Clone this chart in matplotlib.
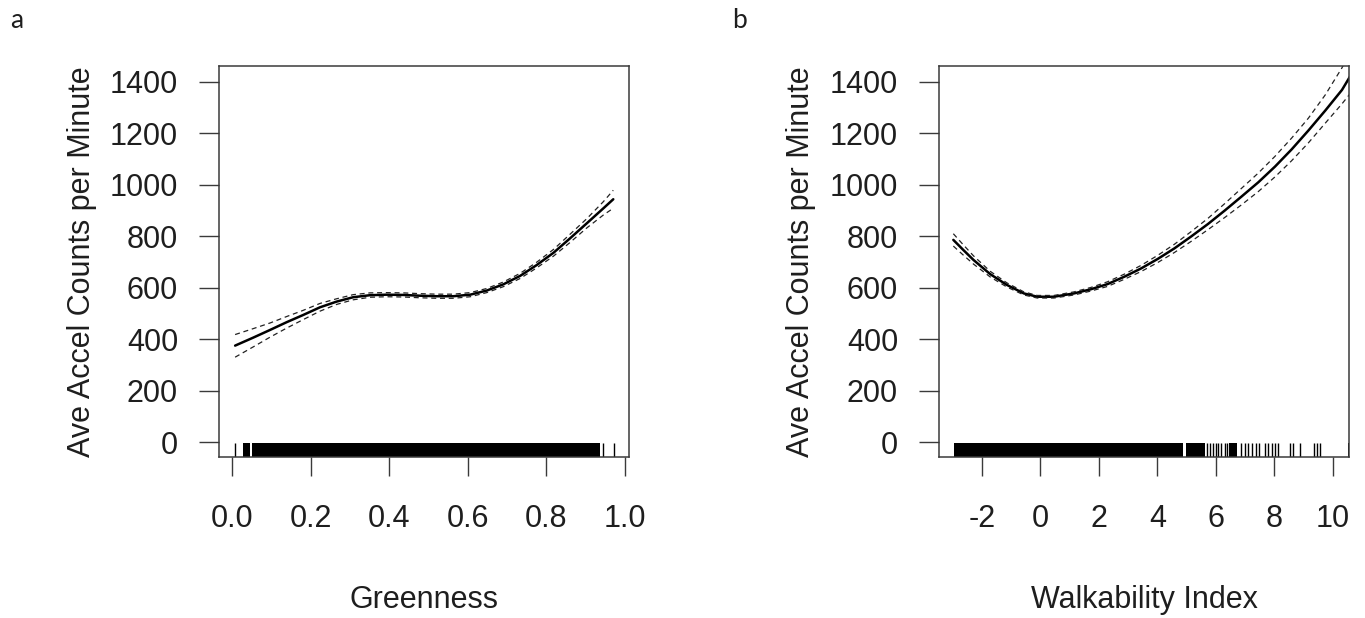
import numpy as np
import matplotlib
matplotlib.use("Agg")
import matplotlib.pyplot as plt

plt.rcParams['font.family'] = ['Liberation Sans', 'DejaVu Sans']

# --- painel a: Greenness ---
green_x = [0.008, 0.054, 0.097, 0.139, 0.181, 0.224, 0.266, 0.308, 0.351, 0.393, 0.436, 0.478,
           0.521, 0.563, 0.606, 0.648, 0.690, 0.733, 0.775, 0.818, 0.860, 0.903, 0.945, 0.970]
green_fit = [375, 406, 436, 466, 494, 524, 546, 563, 571, 573, 572, 569,
             567, 567, 573, 589, 613, 646, 688, 736, 792, 851, 909, 944]
green_upper = [418, 441, 463, 488, 512, 539, 557, 573, 580, 581, 580, 577,
               575, 575, 581, 597, 622, 656, 699, 749, 808, 869, 935, 979]
green_lower = [330, 370, 408, 443, 476, 509, 535, 553, 563, 565, 564, 561,
               559, 559, 565, 581, 604, 636, 677, 723, 776, 833, 883, 909]
# rug: faixas densas (inicio, fim) e marcas isoladas
green_rug_spans = [(0.027, 0.046), (0.050, 0.935)]
green_rug_single = [0.008, 0.945, 0.973]
green_xticks = [0.0, 0.2, 0.4, 0.6, 0.8, 1.0]

# --- painel b: Walkability Index ---
walk_x = [-2.98, -2.64, -2.29, -1.72, -1.15, -0.57, -0.11, 0.46, 1.15, 1.72, 2.29, 2.87, 3.44,
          4.01, 4.58, 5.15, 5.73, 6.30, 6.87, 7.45, 8.02, 8.59, 9.16, 9.74, 10.31, 10.60]
walk_fit = [786, 747, 708, 653, 611, 578, 565, 565, 578, 594, 614, 643, 675,
            712, 753, 799, 848, 900, 954, 1010, 1071, 1138, 1211, 1289, 1369, 1424]
walk_upper = [810, 767, 724, 664, 619, 584, 570, 570, 584, 601, 623, 653, 687,
              726, 769, 818, 870, 927, 986, 1046, 1111, 1182, 1259, 1350, 1455, 1515]
walk_lower = [762, 727, 692, 642, 603, 572, 560, 560, 572, 587, 605, 633, 663,
              698, 737, 780, 826, 873, 922, 974, 1031, 1094, 1163, 1240, 1315, 1356]
walk_rug_spans = [(-2.96, 4.87), (4.96, 5.61), (6.45, 6.72), (10.50, 10.65)]
walk_rug_single = [5.69, 5.78, 5.90, 5.99, 6.08, 6.19, 6.30, 6.37, 6.87, 6.99, 7.10, 7.22,
                   7.36, 7.48, 7.68, 7.79, 7.90, 8.02, 8.11, 8.53, 8.63, 8.88, 9.34, 9.45, 9.56]
walk_xticks = [-2, 0, 2, 4, 6, 8, 10]

yticks = [0, 200, 400, 600, 800, 1000, 1200, 1400]
ylabel = "Ave Accel Counts per Minute"

W, H = 1365, 618
fig = plt.figure(figsize=(W / 100, H / 100), dpi=100)

ax_a = fig.add_axes([219 / W, 1 - 457 / H, 410 / W, 391 / H])
ax_b = fig.add_axes([939 / W, 1 - 457 / H, 410 / W, 391 / H])

spine_col = '#3a3a3a'
text_col = '#1e1e1e'


def draw_panel(ax, x, fit, up, lo, spans, singles, xticks, xlim, xlabels):
    ax.plot(x, fit, color='black', lw=1.8, solid_capstyle='round')
    ax.plot(x, up, color='#222222', lw=0.9, linestyle=(0, (4, 3)))
    ax.plot(x, lo, color='#222222', lw=0.9, linestyle=(0, (4, 3)))
    # rug na base do grafico
    for s0, s1 in spans:
        ax.axvspan(s0, s1, ymin=0, ymax=0.036, color='black', lw=0)
    ax.vlines(singles, 0, 0.036, transform=ax.get_xaxis_transform(), color='black', lw=1.0)
    ax.set_xlim(*xlim)
    ax.set_ylim(-58, 1462)
    ax.set_xticks(xticks)
    ax.set_xticklabels(xlabels)
    ax.set_yticks(yticks)
    ax.set_yticklabels([str(v) for v in yticks])
    for sp in ax.spines.values():
        sp.set_color(spine_col)
        sp.set_linewidth(1.1)
    ax.tick_params(axis='x', direction='out', length=14, width=1.0, color=spine_col,
                   labelsize=22, labelcolor=text_col, pad=20)
    ax.tick_params(axis='y', direction='out', length=14.5, width=1.0, color=spine_col,
                   labelsize=22, labelcolor=text_col, pad=15)


draw_panel(ax_a, green_x, green_fit, green_upper, green_lower, green_rug_spans, green_rug_single,
           green_xticks, (-0.033, 1.010), ["%.1f" % v for v in green_xticks])
draw_panel(ax_b, walk_x, walk_fit, walk_upper, walk_lower, walk_rug_spans, walk_rug_single,
           walk_xticks, (-3.47, 10.55), [str(v) for v in walk_xticks])

# rotulos dos eixos
fig.text(82 / W, 1 - 262 / H, ylabel, rotation=90, ha='center', va='center', fontsize=22, color=text_col)
fig.text(801 / W, 1 - 262 / H, ylabel, rotation=90, ha='center', va='center', fontsize=22, color=text_col)
fig.text(424 / W, 1 - 608 / H, "Greenness", ha='center', va='baseline', fontsize=22, color=text_col)
fig.text(1144 / W, 1 - 608 / H, "Walkability Index", ha='center', va='baseline', fontsize=22, color=text_col)

# letras dos paineis
fig.text(10 / W, 1 - 28 / H, "a", ha='left', va='baseline', fontsize=19, family='Lato', color=text_col)
fig.text(732 / W, 1 - 28 / H, "b", ha='left', va='baseline', fontsize=19, family='Lato', color=text_col)

fig.savefig("out.png", dpi=100, facecolor='white')
